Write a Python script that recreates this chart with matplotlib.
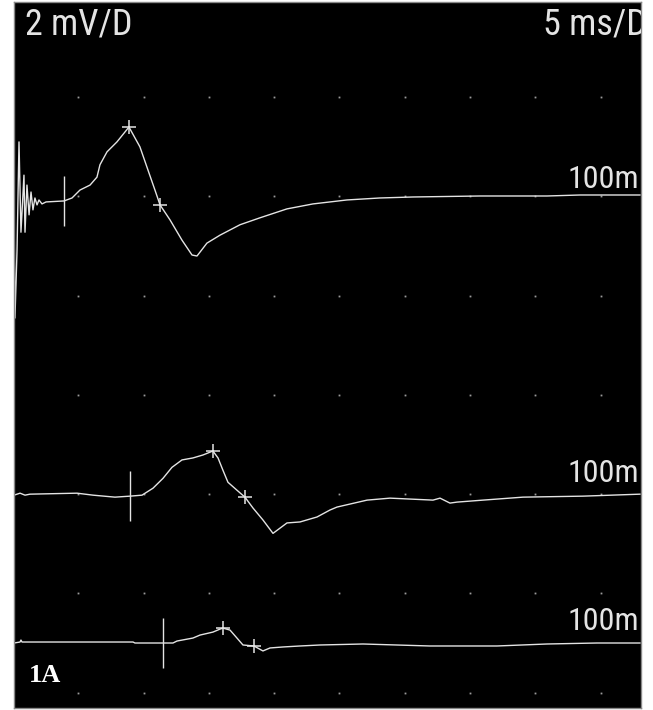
import numpy as np
import matplotlib
matplotlib.use("Agg")
import matplotlib.pyplot as plt
from matplotlib import font_manager

# screen scale: 5 ms / division, 2 mV / division
t1 = [0.08, 0.15, 0.31, 0.46, 0.61, 0.84, 0.92, 1.07, 1.23, 1.38, 1.53, 1.68, 1.84, 1.99,
      2.22, 2.53, 3.91, 4.52, 5.13, 5.90, 6.43, 6.66, 7.20, 7.96, 8.88, 9.72, 10.34, 10.87,
      11.26, 12.02, 12.94, 13.71, 14.09, 14.85, 15.85, 17.38, 18.91, 20.98, 22.97, 25.57,
      28.10, 30.63, 35.76, 40.89, 43.42, 48.01]
a1 = [-0.10, -2.38, -1.01, 1.17, -0.65, 0.50, -0.65, 0.30, -0.30, 0.16, -0.20, 0.04, -0.10, 0.0,
      -0.08, -0.04, -0.02, 0.04, 0.20, 0.30, 0.46, 0.71, 0.97, 1.17, 1.47, 1.07, 0.60, 0.20,
      -0.10, -0.40, -0.81, -1.11, -1.13, -0.87, -0.71, -0.50, -0.36, -0.18, -0.08, 0.0,
      0.04, 0.06, 0.08, 0.08, 0.10, 0.10]

t2 = [0.08, 0.54, 0.92, 1.30, 4.90, 6.13, 7.81, 8.96, 9.88, 10.72, 11.49, 12.17, 12.94, 13.78,
      14.55, 15.31, 15.70, 16.08, 16.46, 17.15, 17.76, 18.38, 19.14, 19.91, 20.98, 21.98,
      23.28, 24.27, 24.81, 27.11, 28.87, 32.16, 32.70, 33.46, 34.00, 35.99, 39.05, 43.64, 48.01]
a2 = [-0.02, 0.02, -0.02, 0.0, 0.02, -0.02, -0.06, -0.04, -0.02, 0.12, 0.32, 0.54, 0.69, 0.73,
      0.79, 0.87, 0.73, 0.48, 0.24, 0.08, -0.06, -0.28, -0.52, -0.79, -0.58, -0.56,
      -0.46, -0.32, -0.26, -0.12, -0.08, -0.12, -0.08, -0.18, -0.16, -0.12, -0.06, -0.04, 0.0]

t3 = [0.08, 0.54, 0.61, 0.69, 9.19, 9.34, 11.49, 12.25, 12.56, 13.78, 14.32, 15.31, 15.85,
      16.08, 16.62, 17.15, 17.61, 18.45, 19.14, 19.68, 20.67, 21.98, 23.51, 26.80, 31.93,
      37.06, 40.89, 44.72, 48.01]
a3 = [-0.02, 0.0, 0.04, 0.0, 0.0, -0.02, -0.02, -0.02, 0.02, 0.08, 0.14, 0.20, 0.26,
      0.28, 0.24, 0.08, -0.06, -0.08, -0.18, -0.12, -0.10, -0.08, -0.06, -0.04, -0.08,
      -0.08, -0.04, -0.02, -0.02]

traces = [(t1, a1), (t2, a2), (t3, a3)]
offsets = [3.93, -2.0, -4.98]          # display offset of each trace (mV)
onsets = [3.91, 8.96, 11.49]           # onset cursor (ms)
peaks = [(8.88, 1.47), (15.31, 0.87), (16.08, 0.28)]
troughs = [(11.26, -0.10), (17.76, -0.06), (18.45, -0.08)]
gain_labels = ["100m", "100m", "100m"]


def pick_narrow():
    # look for a condensed sans, the scope font is narrow
    for fam, stretch in [("Liberation Sans Narrow", "normal"), ("Roboto Condensed", "normal"),
                         ("DejaVu Sans", "condensed"), ("Noto Sans", "condensed"),
                         ("Open Sans", "condensed")]:
        try:
            fp = font_manager.FontProperties(family=fam, stretch=stretch)
            path = font_manager.findfont(fp, fallback_to_default=False)
        except ValueError:
            continue
        name = path.lower()
        if "narrow" in name or "condensed" in name:
            return fp, 1.0
    return font_manager.FontProperties(family="DejaVu Sans"), 0.85


narrow, shrink = pick_narrow()
fg = "#e4e4e4"

fig = plt.figure(figsize=(6.53, 7.10), dpi=100, facecolor="white")
ax = fig.add_axes([14 / 653, 2 / 710, 627 / 653, 706 / 710])
ax.set_facecolor("black")
ax.set_xlim(0.077, 48.09)
ax.set_ylim(-6.31, 7.92)

# dotted screen grid
gx, gy = np.meshgrid(np.arange(5, 48, 5), np.arange(-6, 7.5, 2))
ax.plot(gx.ravel(), gy.ravel(), ls="none", marker="s", ms=1.3, mew=0, color="#9a9a9a")

for (t, a), off, t0, pk, tr, lab in zip(traces, offsets, onsets, peaks, troughs, gain_labels):
    y = np.array(a) + off
    ax.plot(t, y, color=fg, lw=1.0)
    y0 = np.interp(t0, t, y)
    ax.vlines(t0, y0 - 0.51, y0 + 0.51, color=fg, lw=1.0)
    ax.plot(pk[0], pk[1] + off, marker="+", ms=10, mew=1.1, color=fg)
    ax.plot(tr[0], tr[1] + off, marker="+", ms=10, mew=1.1, color=fg)
    ax.text(47.93, off + 0.25, lab, color=fg, fontproperties=narrow, fontsize=23 * shrink,
            ha="right", va="baseline")

ax.text(0.92, 7.26, "2 mV/D", color=fg, fontproperties=narrow, fontsize=26 * shrink,
        va="baseline")
ax.text(40.58, 7.26, "5 ms/D", color=fg, fontproperties=narrow, fontsize=26 * shrink,
        va="baseline", clip_on=True)
ax.text(1.23, -5.79, "1A", color="white", fontsize=19, family="Liberation Serif",
        fontweight="bold", va="baseline")

ax.set_xticks([])
ax.set_yticks([])
for s in ax.spines.values():
    s.set_color("#888888")
    s.set_linewidth(1.0)

fig.savefig("out.png", dpi=100, facecolor="white")
